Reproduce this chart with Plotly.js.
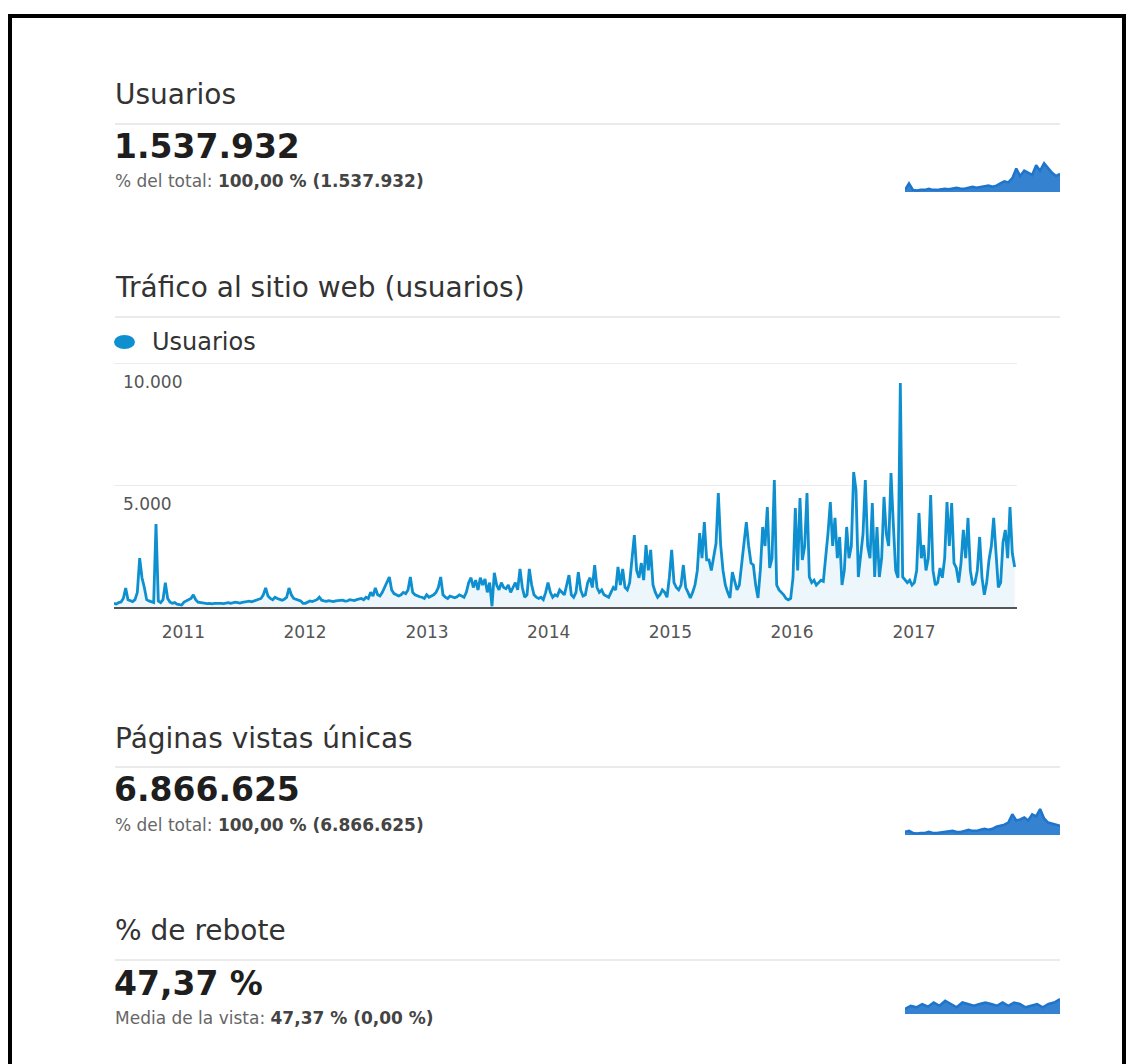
<!DOCTYPE html>
<html>
<head>
<meta charset="utf-8">
<script src="https://cdn.plot.ly/plotly-3.0.1.min.js"></script>
<style>html,body{margin:0;padding:0;background:#fff;}#chart{width:1130px;height:1064px;}</style>
</head>
<body>
<div id="chart"></div>
<script>
// ---- Data: weekly users (Google Analytics export) ----
const startDate = '2010-06-07';   // first week shown
const users2010 = [150,120,180,200,350,780,300,250,220,300,600,2000,1200,800,300,250,200,180,3400,250,180,300,1000,350,200,150,180,120,100,80];
const users2011 = [200,250,300,350,500,300,200,180,150,160,140,150,130,150,160,170,150,140,160,180,150,170,200,180,160,190,200,220,240,210,250,260,300,350,500,780,450,350,300,400,350,300,280,320,400,780,500,350,300,280,250,150];
const users2012 = [150,200,250,220,260,300,400,280,250,230,260,240,220,250,270,260,280,240,250,300,280,260,300,320,350,300,400,350,600,450,780,500,450,600,800,1000,1230,700,550,500,450,500,600,550,700,1230,600,500,450,420,400,350];
const users2013 = [500,400,450,500,600,800,1230,500,400,350,450,400,380,420,500,450,400,600,1000,1200,800,1100,700,1200,900,1150,600,1000,30,1400,900,700,1000,800,750,900,600,800,1000,700,1560,800,400,500,1560,900,500,400,350,400,300,600];
const users2014 = [1000,600,400,500,450,700,600,500,900,1310,500,400,600,1430,700,450,500,1000,1200,800,1720,800,600,700,500,450,400,600,800,700,1640,900,1560,800,700,1000,2000,2950,1500,1200,1800,1100,2540,1500,2340,900,600,400,500,700,600,400];
const users2015 = [1200,2340,1000,800,700,900,1720,800,600,370,600,900,1500,3030,2000,3480,1930,1930,1500,2000,2600,4670,2540,1500,900,600,370,1430,1000,700,900,1800,2870,3480,2500,1800,1720,900,370,1500,3280,2500,4100,1600,2000,5200,900,700,600,500,350,290,350];
const users2016 = [1200,4060,1500,4470,1930,2500,4670,1230,1000,1100,900,1000,1100,1050,2000,3030,4300,2500,3650,2000,2870,900,1500,3280,2000,2500,5530,4800,1230,2000,3000,5200,2500,2000,4260,1230,3280,1230,2000,4510,3000,2500,5490,3400,1500,1200,9180,1230,1100,1000,1100,900];
const users2017 = [1000,1500,3850,2000,2540,1500,2000,4590,1500,900,1000,1600,1200,2000,4300,2500,4260,1800,1600,1000,1800,3160,2000,3650,1500,900,1000,1500,2870,1200,500,1000,1930,2500,3650,2000,800,1000,2660,3160,2000,4100,2200,1640];

const yearTickDates = ['2011-01-01','2012-01-01','2013-01-01','2014-01-01','2015-01-01','2016-01-01','2017-01-01'];
const yearTickLabels = ['2011','2012','2013','2014','2015','2016','2017'];
const yTickVals = [5000, 10000];
const yTickLabels = ['5.000', '10.000'];

// sparklines (relative trend)
const sparkUsuarios = [2,8,2,1.5,2,2,3,2,2,2.5,3,2.5,3,4,3,3,4,5,4,4.5,5,6,5,6,8,10,9,13,22,15,20,18,16,25,20,27,22,18,15,17];
const sparkPaginas = [3,4,2,1.5,2,2,3,2,2,2.5,3,3,4,3,3,4,5,4,4,5,6,5,6,8,9,10,12,20,14,15,17,14,20,18,25,16,12,11,10,9];
const sparkRebote = [43.2,45.3,44.3,46.4,44.7,47.4,45.3,48.5,46.4,44.3,47.4,46.4,45.3,46.4,47.4,46.4,45.3,47.4,45.3,47.4,46.4,44.3,45.3,46.4,44.3,46.4,47.4,49.6];

// ---- Build ----
const usersValues = [].concat(users2010, users2011, users2012, users2013, users2014, users2015, users2016, users2017);
const t0 = Date.parse(startDate + 'T00:00:00Z');
const usersDates = usersValues.map((v, i) => new Date(t0 + i * 7 * 86400000).toISOString().slice(0, 10));
const idx = a => a.map((v, i) => i);

const FONT = 'DejaVu Sans, sans-serif';
const W = 1130, H = 1064;
const px = x => x / W;
const py = y => 1 - y / H;
const BLUE = '#0e8fd0';
const SPARK = '#1f74cc';

// main plot: y=0 at 607px, 10000 at 363px; range extended a bit so the top label is drawn
const Y0 = 607, PX_PER_UNIT = 244 / 10000, YMAX = 10400;

const traces = [
  {x: usersDates, y: usersValues, type: 'scatter', mode: 'lines', xaxis: 'x', yaxis: 'y',
   line: {color: BLUE, width: 2.8}, fill: 'tozeroy', fillcolor: 'rgba(14,143,208,0.08)'},
  {x: idx(sparkUsuarios), y: sparkUsuarios, type: 'scatter', mode: 'lines', xaxis: 'x2', yaxis: 'y2',
   line: {color: SPARK, width: 2.5}, fill: 'tozeroy', fillcolor: 'rgba(31,116,204,0.9)'},
  {x: idx(sparkPaginas), y: sparkPaginas, type: 'scatter', mode: 'lines', xaxis: 'x3', yaxis: 'y3',
   line: {color: SPARK, width: 2.5}, fill: 'tozeroy', fillcolor: 'rgba(31,116,204,0.9)'},
  {x: idx(sparkRebote), y: sparkRebote, type: 'scatter', mode: 'lines', xaxis: 'x4', yaxis: 'y4',
   line: {color: SPARK, width: 2.5}, fill: 'tozeroy', fillcolor: 'rgba(31,116,204,0.9)'}
];

function ann(text, x, y, size, color) {
  return {text: text, xref: 'paper', yref: 'paper', x: px(x), y: py(y), xanchor: 'left', yanchor: 'middle',
          showarrow: false, font: {family: FONT, size: size, color: color}};
}
const sub = (a, b) => a + '<b><span style="color:#444">' + b + '</span></b>';

const annotations = [
  ann('Usuarios', 113, 94, 28, '#333'),
  ann('<b>1.537.932</b>', 112, 146, 33, '#1e1e1e'),
  ann(sub('% del total: ', '100,00 % (1.537.932)'), 113, 181, 17, '#666'),
  ann('Tráfico al sitio web (usuarios)', 113, 287, 28, '#333'),
  ann('Usuarios', 150, 342, 24, '#333'),
  ann('Páginas vistas únicas', 113, 738, 28, '#333'),
  ann('<b>6.866.625</b>', 112, 790, 33, '#1e1e1e'),
  ann(sub('% del total: ', '100,00 % (6.866.625)'), 113, 825, 17, '#666'),
  ann('% de rebote', 113, 930, 28, '#333'),
  ann('<b>47,37 %</b>', 112, 983, 33, '#1e1e1e'),
  ann(sub('Media de la vista: ', '47,37 % (0,00 %)'), 113, 1018, 17, '#666')
];

function sep(y) {
  return {type: 'line', xref: 'paper', yref: 'paper', x0: px(115), x1: px(1060), y0: py(y), y1: py(y),
          line: {color: '#e3e3e3', width: 1.5}};
}
const shapes = [
  {type: 'rect', xref: 'paper', yref: 'paper', x0: px(10), x1: px(1124), y0: py(1080), y1: py(16),
   line: {color: '#000', width: 4}, fillcolor: 'rgba(0,0,0,0)'},
  sep(124), sep(317), sep(767), sep(960),
  {type: 'circle', xref: 'paper', yref: 'paper', x0: px(114), x1: px(135), y0: py(349), y1: py(335),
   fillcolor: BLUE, line: {width: 0}}
];

const hidden = {visible: false, fixedrange: true};
const layout = {
  width: W, height: H,
  margin: {l: 0, r: 0, t: 0, b: 0},
  paper_bgcolor: '#fff', plot_bgcolor: 'rgba(0,0,0,0)',
  showlegend: false, hovermode: false,
  font: {family: FONT},
  xaxis: {type: 'date', domain: [px(114), px(1017)], range: [startDate, '2017-11-06'], anchor: 'y',
          tickvals: yearTickDates, ticktext: yearTickLabels, showgrid: false, zeroline: false,
          showline: true, linecolor: '#555', linewidth: 2, ticks: '', ticklabelstandoff: 9,
          tickfont: {family: FONT, size: 17, color: '#555'}},
  yaxis: {domain: [py(Y0), py(Y0 - YMAX * PX_PER_UNIT)], range: [0, YMAX], anchor: 'x',
          tickvals: yTickVals, ticktext: yTickLabels, showgrid: true, gridcolor: '#ececec', gridwidth: 1,
          zeroline: false, showline: false, ticks: '', ticklabelposition: 'inside',
          ticklabelshift: 19, ticklabelstandoff: 6,
          tickfont: {family: FONT, size: 17, color: '#555'}},
  xaxis2: Object.assign({domain: [px(905), px(1060)], anchor: 'y2', range: [0, sparkUsuarios.length - 1]}, hidden),
  yaxis2: Object.assign({domain: [py(192), py(160)], anchor: 'x2', range: [0, 30]}, hidden),
  xaxis3: Object.assign({domain: [px(905), px(1060)], anchor: 'y3', range: [0, sparkPaginas.length - 1]}, hidden),
  yaxis3: Object.assign({domain: [py(835), py(806)], anchor: 'x3', range: [0, 28]}, hidden),
  xaxis4: Object.assign({domain: [px(905), px(1060)], anchor: 'y4', range: [0, sparkRebote.length - 1]}, hidden),
  yaxis4: Object.assign({domain: [py(1014), py(990)], anchor: 'x4', range: [40, 55.4]}, hidden),
  annotations: annotations,
  shapes: shapes
};

Plotly.newPlot('chart', traces, layout, {staticPlot: true, displayModeBar: false});
</script>
</body>
</html>
